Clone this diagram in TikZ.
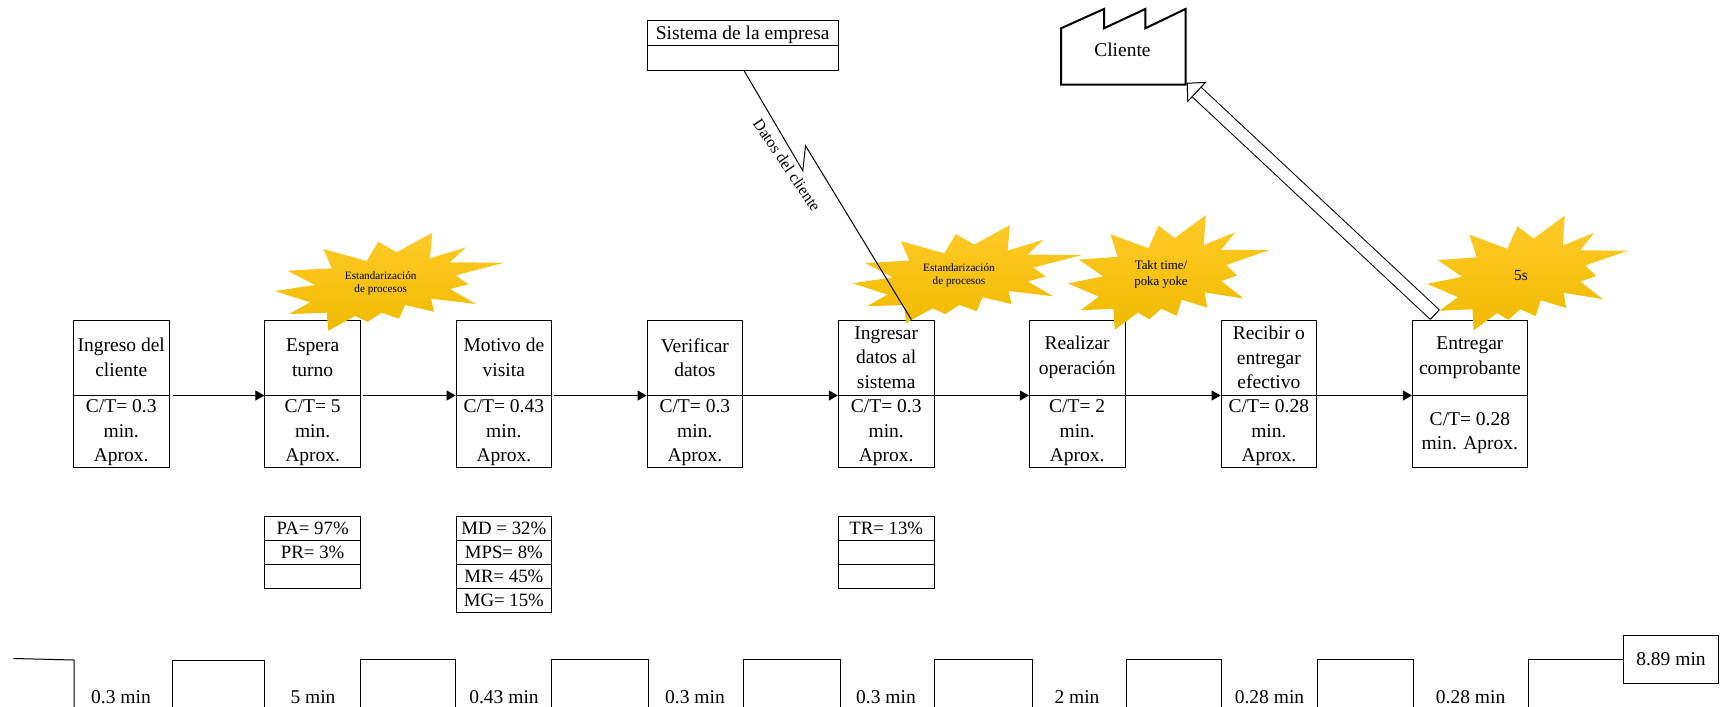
\documentclass[tikz,border=0pt]{standalone}
\usepackage{fontspec}
\setmainfont{Liberation Serif}
\usetikzlibrary{arrows.meta,calc}
\definecolor{burstTop}{HTML}{FFCA28}
\definecolor{burstMid}{HTML}{FFC000}
\definecolor{burstLow}{HTML}{EFBB00}
\newcommand{\uptime}{\rule{0pt}{8.4pt}}

\begin{document}
\begin{tikzpicture}[
  x=0.5pt, y=-0.5pt,
  base/.style={font=\fontsize{9.75}{12.25}\selectfont, align=center, inner sep=0pt},
  titlebox/.style={base, draw, line width=0.5pt, minimum width=47.8pt, minimum height=37.5pt},
  timebox/.style={base, draw, line width=0.5pt, minimum width=47.8pt, minimum height=36pt},
  databox/.style={base, font=\fontsize{9.4}{12}\selectfont, draw, line width=0.5pt, minimum width=47.8pt, minimum height=12pt},
  sysbox/.style={base, draw, line width=0.5pt, minimum width=95.7pt, minimum height=12.6pt},
  timeline/.style={line width=0.5pt},
  arrow/.style={-{Triangle[length=4.5pt, width=5pt]}, line width=0.6pt},
  push/.style={-{Triangle[open, fill=white, length=7pt, width=14pt, line width=0.5pt]},
    double=white, double distance=6pt, line width=0.5pt},
  bursttext/.style={inner sep=0pt, align=center},
  pics/burst/.style={code={
    \shade[top color=burstTop, middle color=burstMid, bottom color=burstLow]
      (52.3,-50.3) -- (50,-24.7) -- (86,-35.7) -- (70,-20.7) -- (124.3,-20.3) -- (75.7,-7.7)
      -- (88.3,1.3) -- (70,6) -- (95.7,21) -- (51,15.7) -- (54,28.7) -- (25,22) -- (19,35.7)
      -- (1.7,29.7) -- (-12.3,38.7) -- (-25,33) -- (-51.7,47.7) -- (-53.3,29.7) -- (-90.7,31)
      -- (-70,19.3) -- (-105,8) -- (-65,2) -- (-92.7,-12.3) -- (-48.3,-14.7) -- (-56.7,-34)
      -- (-13.3,-22) -- (-1.7,-41.3) -- (16.7,-30.7) -- cycle;
  }}
]
\useasboundingbox (0,0) rectangle (1720,706.5);

% process boxes
\node[titlebox] (ingreso) at (121.25,357.5) {Ingreso del\\cliente};
\node[timebox] (ingresoCT) at (121.25,431) {\uptime C/T= 0.3\\min.\\Aprox.};
\node[titlebox] (espera) at (312.65,357.5) {Espera\\turno};
\node[timebox] (esperaCT) at (312.65,431) {\uptime C/T= 5\\min.\\Aprox.};
\node[titlebox] (motivo) at (503.85,357.5) {Motivo de\\visita};
\node[timebox] (motivoCT) at (503.85,431) {\uptime C/T= 0.43\\min.\\Aprox.};
\node[titlebox] (verificar) at (694.85,357.5) {Verificar\\datos};
\node[timebox] (verificarCT) at (694.85,431) {\uptime C/T= 0.3\\min.\\Aprox.};
\node[titlebox] (ingresar) at (886.2,357.5) {Ingresar\\datos al\\sistema};
\node[timebox] (ingresarCT) at (886.2,431) {\uptime C/T= 0.3\\min.\\Aprox.};
\node[titlebox] (realizar) at (1077.2,357.5) {Realizar\\operación};
\node[timebox] (realizarCT) at (1077.2,431) {\uptime C/T= 2\\min.\\Aprox.};
\node[titlebox] (recibir) at (1268.85,357.5) {Recibir o\\entregar\\efectivo};
\node[timebox] (recibirCT) at (1268.85,431) {\uptime C/T= 0.28\\min.\\Aprox.};
\node[titlebox, minimum width=57.5pt] (entregar) at (1469.9,357.5) {Entregar\\comprobante};
\node[timebox, minimum width=57.5pt] (entregarCT) at (1469.9,431) {\uptime C/T= 0.28\\min. Aprox.};

% data boxes
\node[databox] (pa) at (312.65,528) {PA= 97\%};
\node[databox] (pr) at (312.65,552) {PR= 3\%};
\node[databox] (vacio1) at (312.65,576) {};
\node[databox] (md) at (503.85,528) {MD = 32\%};
\node[databox] (mps) at (503.85,552) {MPS= 8\%};
\node[databox] (mr) at (503.85,576) {MR= 45\%};
\node[databox] (mg) at (503.85,600) {MG= 15\%};
\node[databox] (tr) at (886.2,528) {TR= 13\%};
\node[databox] (vacio2) at (886.2,552) {};
\node[databox] (vacio3) at (886.2,576) {};

% system and customer
\node[sysbox, execute at begin node=\rule{0pt}{8.6pt}] (sistema) at (742.7,32.7) {Sistema de la empresa};
\node[sysbox] (sistemaVacio) at (742.7,58) {};
\draw[line width=1pt, line join=miter] (1061,84.7) -- (1061,28.3) -- (1104,9) -- (1104,28.3) -- (1145.3,9)
  -- (1145.3,28.3) -- (1185.5,9) -- (1185.5,84.7) -- cycle;
\node[base] (cliente) at (1122.4,50) {Cliente};
\coordinate (clienteEsq) at (1186.7,82.7);
\coordinate (entregarSal) at (1434.8,314.6);
\draw[push] (entregarSal) -- (clienteEsq);
\draw[line width=0.5pt] ([shift={(-4.4,4.7)}]entregarSal) -- ([shift={(4.4,-4.7)}]entregarSal);

% flow
\draw[arrow, shorten <=1.5pt] (ingreso.south east) -- (espera.south west);
\draw[arrow, shorten <=1pt] (espera.south east) -- (motivo.south west);
\draw[arrow, shorten <=1pt] (motivo.south east) -- (verificar.south west);
\draw[arrow] (verificar.south east) -- (ingresar.south west);
\draw[arrow] (ingresar.south east) -- (realizar.south west);
\draw[arrow] (realizar.south east) -- (recibir.south west);
\draw[arrow] (recibir.south east) -- (entregar.south west);

% kaizen bursts
\pic (burstA) at (380,283) {burst};
\pic (burstB) at (957.6,275.3) {burst};
\pic[xscale=0.875, yscale=1.17] (burstC) at (1160,274) {burst};
\pic[xscale=0.875, yscale=1.17] (burstD) at (1519,274.5) {burst};
\node[bursttext, font=\fontsize{5.6}{6.3}\selectfont] (mejoraA) at (380.7,283) {Estandarización\\de procesos};
\node[bursttext, font=\fontsize{5.6}{6.3}\selectfont] (mejoraB) at (959,275.5) {Estandarización\\de procesos};
\node[bursttext, font=\fontsize{6.45}{7.8}\selectfont] (mejoraC) at (1161,274.5) {Takt time/\\poka yoke};
\node[bursttext, font=\fontsize{7.7}{9}\selectfont] (mejoraD) at (1521,276) {5s};

% information line
\draw[line width=0.5pt] ([xshift=0.8pt]sistemaVacio.south) -- (802.8,170.7) -- (805.5,145.7)
  -- ([xshift=-11.6pt]ingresar.north east);
\node[base, font=\fontsize{8}{10}\selectfont, rotate=-56] (datos) at (787,165) {Datos del cliente};

% timeline
\draw[timeline] (13.4,658.5) -- (74,660) -- (74,708);
\draw[timeline] (172,708) -- (172,660) -- (264,660) -- (264,708);
\draw[timeline] (360,708) -- (360,659) -- (455.4,659) -- (455.4,708);
\draw[timeline] (551,708) -- (551,659.5) -- (648,659.5) -- (648,708);
\draw[timeline] (743.7,708) -- (743.7,659.5) -- (840,659.5) -- (840,708);
\draw[timeline] (934,708) -- (934,659.5) -- (1032,659.5) -- (1032,708);
\draw[timeline] (1126,708) -- (1126,659.5) -- (1221,659.5) -- (1221,708);
\draw[timeline] (1317,708) -- (1317,659.5) -- (1413,659.5) -- (1413,708);
\node[base, draw, line width=0.5pt, minimum width=47.8pt, minimum height=24pt] (total) at (1671,659) {8.89 min};
\draw[timeline] (1528.5,708) |- (total.west);
\node[base] (tiempoA) at (121,697) {0.3 min};
\node[base] (tiempoB) at (313,697) {5 min};
\node[base] (tiempoC) at (504,697) {0.43 min};
\node[base] (tiempoD) at (695,697) {0.3 min};
\node[base] (tiempoE) at (886,697) {0.3 min};
\node[base] (tiempoF) at (1077,697) {2 min};
\node[base] (tiempoG) at (1269.5,697) {0.28 min};
\node[base] (tiempoH) at (1470.6,697) {0.28 min};
\end{tikzpicture}
\end{document}
